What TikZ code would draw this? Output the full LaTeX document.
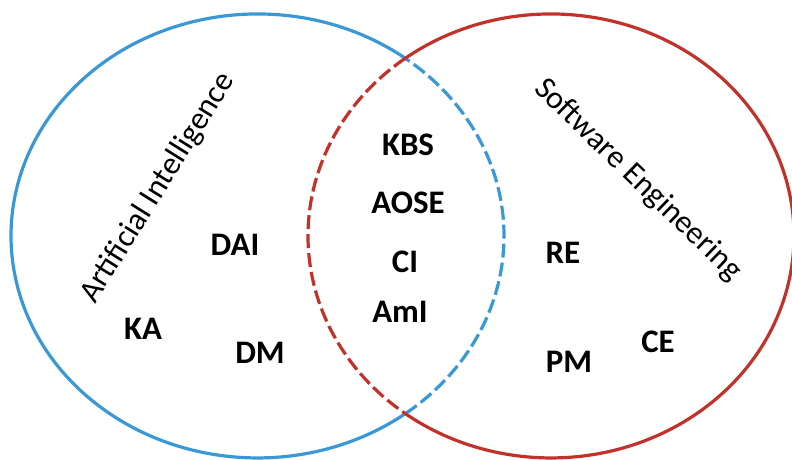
\documentclass[tikz,border=0pt]{standalone}
\usepackage{fontspec}
\setmainfont{Carlito}
\definecolor{aiblue}{RGB}{58,152,214}
\definecolor{sered}{RGB}{192,50,42}
\begin{document}
\begin{tikzpicture}[x=1bp,y=1bp,
  ring/.style={line width=3.2bp},
  dashring/.style={line width=3.2bp, dash pattern=on 14bp off 5bp},
  term/.style={font=\fontsize{33}{33}\selectfont\bfseries, inner sep=0pt},
  field/.style={font=\fontsize{32}{32}\selectfont, inner sep=0pt}]
\useasboundingbox (0,0) rectangle (792,460);
\coordinate (ai) at (257.5,224);
\coordinate (se) at (551,224);
\coordinate (top) at (405.3,401.7);
\coordinate (bot) at (405.3,46.3);
% Artificial Intelligence ellipse
\draw[ring, aiblue] (top) arc[start angle=53.16, end angle=306.84, x radius=246.5, y radius=222];
\draw[dashring, aiblue] (bot) arc[start angle=-53.16, end angle=53.16, x radius=246.5, y radius=222];
% Software Engineering ellipse
\draw[ring, sered] (top) arc[start angle=126.84, end angle=-126.84, x radius=243, y radius=222];
\draw[dashring, sered] (top) arc[start angle=126.84, end angle=233.16, x radius=243, y radius=222];
% field labels
\node[field, rotate=58] (lai) at (158,272) {Artificial Intelligence};
\node[field, rotate=-44] (lse) at (638,280) {Software Engineering};
% terms
\node[term] (kbs) at (408,315) {KBS};
\node[term] (aose) at (408,257) {AOSE};
\node[term] (ci) at (405,198) {CI};
\node[term] (ami) at (400,148) {AmI};
\node[term] (dai) at (235,215) {DAI};
\node[term] (ka) at (143,131) {KA};
\node[term] (dm) at (260,107) {DM};
\node[term] (re) at (563,207) {RE};
\node[term] (pm) at (569,98) {PM};
\node[term] (ce) at (658,118) {CE};
\end{tikzpicture}
\end{document}
